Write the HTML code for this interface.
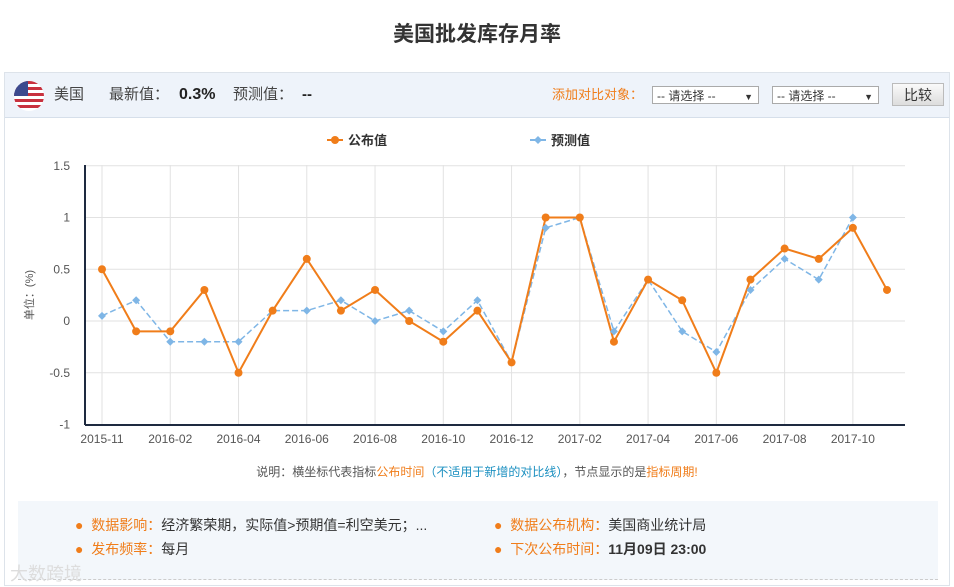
<!DOCTYPE html><html><head><meta charset="utf-8"><style>
body{margin:0;width:954px;height:587px;background:#fff;font-family:"Liberation Sans","Noto Sans CJK SC",sans-serif;position:relative;overflow:hidden}
.t{position:absolute;top:18px;width:954px;text-align:center;font-size:21px;font-weight:bold;color:#333}
.box{position:absolute;left:4px;top:72px;width:944px;height:512px;border:1px solid #dde3ea;}
.hdr{position:absolute;left:0;top:0;width:944px;height:44px;background:#eef3fa;border-bottom:1px solid #d6dfea;font-size:15px;color:#444}
.hdr span,.hdr b{line-height:20px}
.sel{position:absolute;top:13px;height:18px;width:107px;border:1px solid #aaa;background:#fff;font-size:12px;line-height:18px;padding-left:4px;box-sizing:border-box;color:#333}
.btn{position:absolute;left:887px;top:10px;width:52px;height:23px;border:1px solid #bbb;background:linear-gradient(#fafafa,#ddd);font-size:14px;text-align:center;line-height:23px;box-sizing:border-box;color:#333}
.info{position:absolute;left:13px;top:428px;width:920px;height:78px;background:#f3f7fb;border-bottom:1px dashed #ccc;font-size:14px;color:#333}
.info div{position:absolute}
.o{color:#f07d1a}
</style></head><body>
<div class="t">美国批发库存月率</div>
<div class="box">
<div class="hdr">
<svg style="position:absolute;left:9px;top:8px" width="30" height="30"><defs><clipPath id="c"><circle cx="15" cy="15" r="15"/></clipPath></defs><g clip-path="url(#c)"><rect width="30" height="30" fill="#fff"/><g fill="#c8313e"><rect y="0" width="30" height="3"/><rect y="6" width="30" height="3"/><rect y="12" width="30" height="3"/><rect y="18" width="30" height="3"/><rect y="24" width="30" height="3"/></g><rect width="14" height="15" fill="#3c4a8e"/></g></svg>
<span style="position:absolute;left:49px;top:12px">美国</span>
<span style="position:absolute;left:104px;top:12px">最新值：</span><b style="position:absolute;left:174px;top:12px;font-size:16px;color:#222">0.3%</b>
<span style="position:absolute;left:228px;top:12px">预测值：</span><b style="position:absolute;left:297px;top:12px;color:#222">--</b>
<span style="position:absolute;left:547px;top:12px;font-size:13px;color:#f07d1a">添加对比对象：</span>
<div class="sel" style="left:647px">-- 请选择 --<span style="position:absolute;right:5px;font-size:9px">▼</span></div>
<div class="sel" style="left:767px">-- 请选择 --<span style="position:absolute;right:5px;font-size:9px">▼</span></div>
<div class="btn">比较</div>
</div>
<div class="info">
<div style="left:57px;top:14px"><span class="o">●&nbsp; 数据影响：</span>经济繁荣期，实际值&gt;预期值=利空美元；...</div>
<div style="left:476px;top:14px"><span class="o">●&nbsp; 数据公布机构：</span>美国商业统计局</div>
<div style="left:57px;top:38px"><span class="o">●&nbsp; 发布频率：</span>每月</div>
<div style="left:476px;top:38px"><span class="o">●&nbsp; 下次公布时间：</span><b>11月09日 23:00</b></div>
</div>
</div>
<div style="position:absolute;left:10px;top:560px;font-size:18px;color:#ddd">大数跨境</div>
<svg style="position:absolute;left:0;top:0" width="954" height="587" font-family="Liberation Sans,Noto Sans CJK SC,sans-serif">
<g stroke="#e2e2e2" stroke-width="1" id="grid"></g>
<line x1="85" y1="165" x2="85" y2="425" stroke="#1e2a40" stroke-width="2"/>
<line x1="85" y1="425" x2="905" y2="425" stroke="#1e2a40" stroke-width="2"/>
<g font-size="12" fill="#555" text-anchor="end" id="yl"></g>
<g font-size="12" fill="#555" text-anchor="middle" id="xl"></g>
<text x="33" y="295" font-size="11" fill="#555" transform="rotate(-90 33 295)" text-anchor="middle">单位：(%)</text>
<line x1="327" y1="140" x2="343" y2="140" stroke="#f07d1a" stroke-width="2"/><circle cx="335" cy="140" r="4" fill="#f07d1a"/>
<text x="348" y="145" font-size="13" font-weight="bold" fill="#333">公布值</text>
<line x1="530" y1="140" x2="546" y2="140" stroke="#7fb6e6" stroke-width="2"/><path d="M538 136l4 4-4 4-4-4z" fill="#7fb6e6"/>
<text x="551" y="145" font-size="13" font-weight="bold" fill="#333">预测值</text>
<polyline id="b" fill="none" stroke="#7fb6e6" stroke-width="1.5" stroke-dasharray="6,3"/>
<polyline id="a" fill="none" stroke="#f07d1a" stroke-width="2"/>
<g id="pts"></g>
<text x="477" y="476" font-size="12" text-anchor="middle" fill="#555">说明：横坐标代表指标<tspan fill="#f07d1a">公布时间</tspan><tspan fill="#1a8fc0">（不适用于新增的对比线）</tspan>，节点显示的是<tspan fill="#f07d1a">指标周期!</tspan></text>
</svg>
<script>
var ns="http://www.w3.org/2000/svg";function e(p,t,a,tx){var el=document.createElementNS(ns,t);for(var k in a)el.setAttribute(k,a[k]);if(tx)el.textContent=tx;document.getElementById(p).appendChild(el);}
function Y(v){return 321-v*103.5}function X(i){return 102+i*34.13}
[1.5,1,0.5,0,-0.5,-1].forEach(function(v){e("grid","line",{x1:85,x2:905,y1:Y(v),y2:Y(v)});e("yl","text",{x:70,y:Y(v)+4},String(v))});
var lb=["2015-11","2016-02","2016-04","2016-06","2016-08","2016-10","2016-12","2017-02","2017-04","2017-06","2017-08","2017-10"];
lb.forEach(function(l,k){var x=X(2*k);e("grid","line",{x1:x,x2:x,y1:165,y2:425});e("xl","text",{x:x,y:443},l)});
var A=[0.5,-0.1,-0.1,0.3,-0.5,0.1,0.6,0.1,0.3,0,-0.2,0.1,-0.4,1,1,-0.2,0.4,0.2,-0.5,0.4,0.7,0.6,0.9,0.3];
var B=[0.05,0.2,-0.2,-0.2,-0.2,0.1,0.1,0.2,0,0.1,-0.1,0.2,-0.4,0.9,1,-0.1,0.4,-0.1,-0.3,0.3,0.6,0.4,1];
document.getElementById("a").setAttribute("points",A.map(function(v,i){return X(i)+","+Y(v)}).join(" "));
document.getElementById("b").setAttribute("points",B.map(function(v,i){return X(i)+","+Y(v)}).join(" "));
B.forEach(function(v,i){var x=X(i),y=Y(v);e("pts","path",{d:"M"+x+" "+(y-4)+"l4 4-4 4-4-4z",fill:"#7fb6e6"})});
A.forEach(function(v,i){e("pts","circle",{cx:X(i),cy:Y(v),r:4,fill:"#f07d1a"})});
</script>
</body></html>
